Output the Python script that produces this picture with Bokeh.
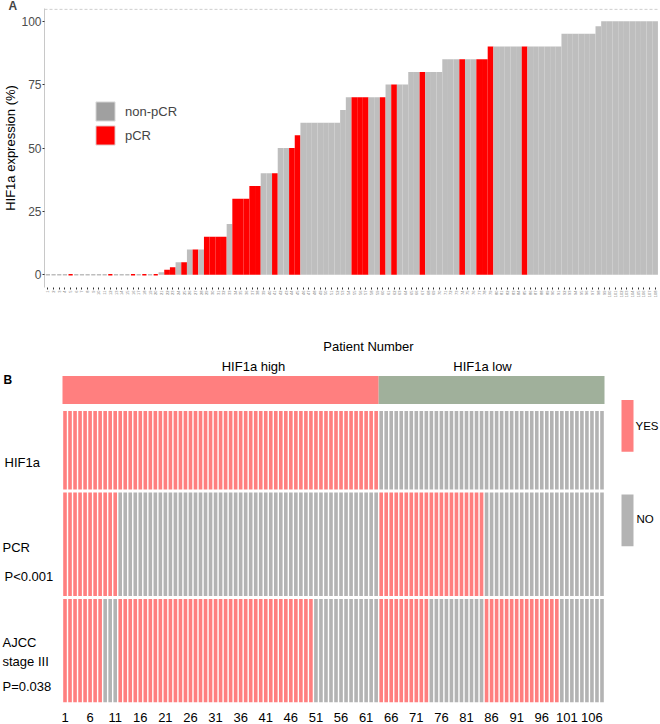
import math
from bokeh.plotting import figure
from bokeh.models import (ColumnDataSource, Range1d, FixedTicker, Legend, LegendItem, Span)
from bokeh.embed import file_html
from bokeh.resources import INLINE
from bokeh.core.properties import value

# ---------------- data ----------------
patients = list(range(1, 109))
hif1a_expr = [0, 0, 0, 0, 0, 0, 0, 0, 0, 0,
              0, 0, 0, 0, 0, 0, 0, 0, 0, 0,
              1, 2, 3, 5, 5, 10, 10, 10, 15, 15,
              15, 15, 20, 30, 30, 30, 35, 35, 40, 40,
              40, 50, 50, 50, 55, 60, 60, 60, 60, 60,
              60, 60, 65, 70, 70, 70, 70, 70, 70, 70,
              75, 75, 75, 75, 80, 80, 80, 80, 80, 80,
              85, 85, 85, 85, 85, 85, 85, 85, 90, 90,
              90, 90, 90, 90, 90, 90, 90, 90, 90, 90,
              90, 95, 95, 95, 95, 95, 95, 98, 100, 100,
              100, 100, 100, 100, 100, 100, 100, 100]
pcr_patients = [5, 12, 16, 18, 20, 22, 23, 25, 27, 29, 30, 31, 32, 34, 35, 36, 37, 38,
                41, 44, 45, 55, 56, 57, 60, 62, 67, 74, 77, 78, 79, 85]
high_cutoff = 60
# AJCC stage III (1 = YES) in heatmap column order
ajcc_stage3 = [1] * 8 + [0] * 3 + [1] * 39 + [0] * 13 + \
              [1] * 10 + [0] * 11 + [1] * 15 + [0] * 9
heat_ticks = list(range(1, 107, 5))
group_names = ["HIF1a high", "HIF1a low"]
row_names = ["HIF1a", "PCR", "AJCC", "stage III"]
p_values = ["P<0.001", "P=0.038"]
y_ticks = [0, 25, 50, 75, 100]

# ---------------- panel A ----------------
GREY = "#BEBEBE"
RED = "#FF0000"
FONT = "Liberation Sans"
status = ["pCR" if p in pcr_patients else "non-pCR" for p in patients]
colors = [RED if s == "pCR" else GREY for s in status]
src = ColumnDataSource(dict(x=patients, top=hif1a_expr, color=colors))
zero_idx = [i for i, v in enumerate(hif1a_expr) if v == 0]
zsrc = ColumnDataSource(dict(x=[patients[i] for i in zero_idx],
                             y=[hif1a_expr[i] for i in zero_idx],
                             color=[colors[i] for i in zero_idx]))

pa = figure(width=660, height=300, x_range=Range1d(0.4, 108.6), y_range=Range1d(-5, 105),
            output_backend="svg", toolbar_location=None, title="A",
            min_border_left=41, min_border_right=2, min_border_top=0, min_border_bottom=10)
pa.title.text_font = FONT
pa.title.text_font_size = "12px"
pa.title.text_font_style = "bold"
pa.title.standoff = -8
pa.title.offset = -36
pa.outline_line_color = None
pa.xgrid.grid_line_color = None
pa.ygrid.grid_line_color = None
pa.vbar(x="x", top="top", bottom=0, width=1.0, fill_color="color", line_color=None, source=src)
pa.rect(x="x", y="y", width=0.74, height=1.6, height_units="screen",
        fill_color="color", line_color=None, source=zsrc)

pa.yaxis.ticker = FixedTicker(ticks=y_ticks)
pa.yaxis.major_label_text_font_size = "12px"
pa.yaxis.major_label_text_color = "#4D4D4D"
pa.yaxis.major_label_text_font = FONT
pa.yaxis.axis_line_color = "#C8C8C8"
pa.yaxis.major_tick_line_color = "#333333"
pa.yaxis.major_tick_out = 2
pa.yaxis.major_tick_in = 0
pa.yaxis.minor_tick_line_color = None
pa.yaxis.major_label_standoff = 1
pa.yaxis.axis_label = "HIF1a expression (%)"
pa.yaxis.axis_label_text_font_size = "13px"
pa.yaxis.axis_label_text_font = FONT
pa.yaxis.axis_label_text_font_style = "normal"
pa.yaxis.axis_label_text_color = "black"
pa.yaxis.axis_label_standoff = 0

pa.xaxis.ticker = FixedTicker(ticks=patients)
pa.xaxis.major_label_orientation = math.pi / 2
pa.xaxis.major_label_text_font_size = "4px"
pa.xaxis.major_label_text_color = "#777777"
pa.xaxis.major_label_standoff = 1
pa.xaxis.axis_line_color = None
pa.xaxis.major_tick_line_color = "#333333"
pa.xaxis.major_tick_out = 2
pa.xaxis.major_tick_in = 0
pa.xaxis.minor_tick_line_color = None

pa.add_layout(Span(location=104.7, dimension="width", line_color="#C8C8C8",
                   line_dash="3 2", line_width=1))

nan = float("nan")
r_non = pa.vbar(x=[nan], top=[nan], width=1, fill_color="#A0A0A0", line_color="#E2E2E2")
r_pcr = pa.vbar(x=[nan], top=[nan], width=1, fill_color=RED, line_color="#E2E2E2")
leg = Legend(items=[LegendItem(label="non-pCR", renderers=[r_non]),
                    LegendItem(label="pCR", renderers=[r_pcr])],
             location=(49, 140), glyph_width=24, glyph_height=24, label_height=24,
             label_text_font_size="13px", label_text_font=FONT, label_standoff=8,
             spacing=0, padding=0, margin=0, border_line_color=None,
             background_fill_alpha=0)
pa.add_layout(leg, "center")

# ---------------- panel B ----------------
PINK = "#FF7F7F"
NOGREY = "#B3B3B3"
GREEN = "#A0B09B"
records = [(e, 1 if p in pcr_patients else 0) for p, e in zip(patients, hif1a_expr)]
high = [r for r in records if r[0] >= high_cutoff]
low = [r for r in records if r[0] < high_cutoff]
high.sort(key=lambda r: -r[1])
low.sort(key=lambda r: -r[1])
ordered = high + low
n = len(ordered)
cols = list(range(1, n + 1))
hif_row = [1] * len(high) + [0] * len(low)
pcr_row = [r[1] for r in ordered]

CW = 542 / n  # px per column


def px2x(xpx):
    return 0.5 + (xpx - 62) / CW


pb = figure(width=660, height=424, x_range=Range1d(px2x(0), px2x(660)),
            y_range=Range1d(704, 300), output_backend="svg", toolbar_location=None,
            y_axis_location=None,
            min_border_left=0, min_border_right=0, min_border_top=0, min_border_bottom=20)
pb.outline_line_color = None
pb.xgrid.grid_line_color = None
pb.ygrid.grid_line_color = None

# annotation bar
pb.quad(left=[0.5, len(high) + 0.5], right=[len(high) + 0.5, n + 0.5],
        top=[376, 376], bottom=[404, 404], fill_color=[PINK, GREEN], line_color=None)

row_layout = [(411, 490), (493, 597), (600, 704)]
xs, ys, hs, cs = [], [], [], []
for (y0, y1), vals in zip(row_layout, [hif_row, pcr_row, ajcc_stage3]):
    for c, v in zip(cols, vals):
        xs.append(c)
        ys.append((y0 + y1) / 2)
        hs.append(y1 - y0)
        cs.append(PINK if v else NOGREY)
pb.rect(x=xs, y=ys, width=0.72, height=hs, fill_color=cs, line_color=None)

# legend
pb.quad(left=[px2x(621), px2x(621)], right=[px2x(633), px2x(633)],
        top=[400, 495], bottom=[452, 547], fill_color=[PINK, NOGREY], line_color=None)

BF = "Liberation Sans"


def txt(xpx, y, s, align="left", bold=False, size="13px"):
    pb.text(x=[px2x(xpx)], y=[y], text=[s], text_align=align, text_baseline="middle",
            text_font_size=size, text_font=value(BF),
            text_font_style="bold" if bold else "normal", text_color="black")


txt(368, 346, "Patient Number", align="center")
txt(253, 366, group_names[0], align="center")
txt(482, 366, group_names[1], align="center")
txt(3, 380, "B", bold=True, size="12px")
txt(4, 463, row_names[0])
txt(2, 548, row_names[1])
txt(4, 577, p_values[0])
txt(2, 644, row_names[2])
txt(2, 663, row_names[3])
txt(2, 688, p_values[1])
txt(635, 426, "YES", size="11.5px")
txt(636, 520, "NO", size="11.5px")

pb.xaxis.ticker = FixedTicker(ticks=heat_ticks)
pb.xaxis.axis_line_color = None
pb.xaxis.major_tick_line_color = None
pb.xaxis.minor_tick_line_color = None
pb.xaxis.major_label_text_font_size = "13px"
pb.xaxis.major_label_text_font = BF
pb.xaxis.major_label_text_color = "black"
pb.xaxis.major_label_standoff = 4

open("out.html", "w").write(file_html([pa, pb], INLINE))
